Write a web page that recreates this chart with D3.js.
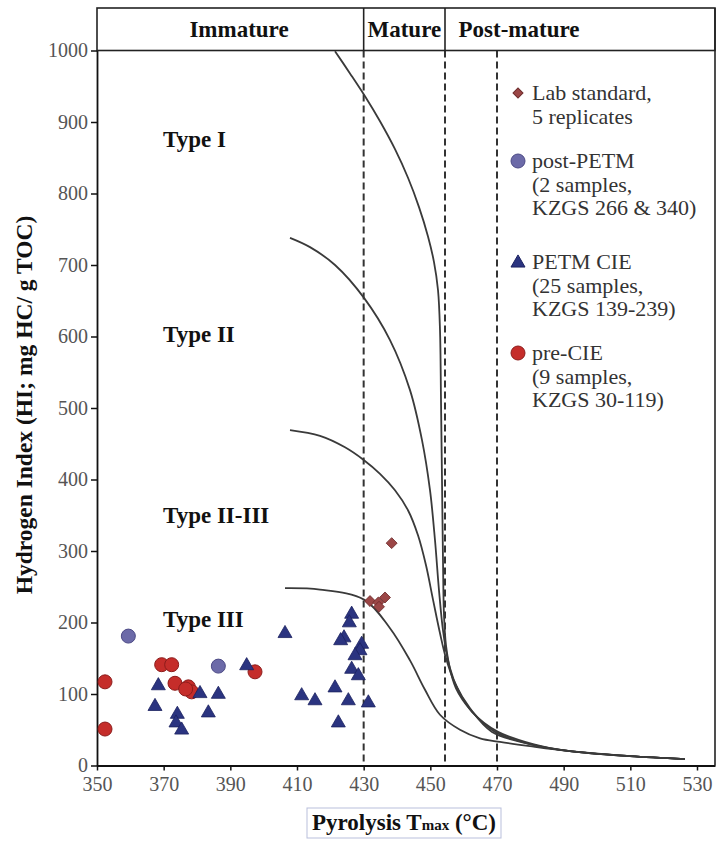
<!DOCTYPE html>
<html><head><meta charset="utf-8">
<script src="https://cdn.jsdelivr.net/npm/d3@7/dist/d3.min.js"></script>
<style>body{margin:0;background:#fff}text{font-family:"Liberation Serif","Times New Roman",serif}</style>
</head><body><svg id="c" width="720" height="841"></svg>
<script>
// ---- data ----
const xTickValues = [350,370,390,410,430,450,470,490,510,530];
const yTickValues = [0,100,200,300,400,500,600,700,800,900,1000];
const stageNames = ["Immature","Mature","Post-mature"];
const stageBounds = [430, 454.4, 470];
const typeNames = ["Type I","Type II","Type II-III","Type III"];
const typeLabelTmax = [369.8,369.8,369.8,369.8];
const typeLabelHI = [865,592,339,194];

const typeICurve = [[421.4,999],[425.9,968],[430.4,936],[434.9,901],[439.4,862],[443.3,822],[446.6,781],[449.3,740],[451.1,704],[452.3,665],[452.9,609],[453.2,511],[453.5,399],[453.8,287],[454.1,210],[454.7,168],[455.9,136],[458.3,106],[462.5,75],[470.3,47],[480.8,30],[491.9,20],[509.9,13],[526.4,9]];
const typeIICurve = [[407.9,738],[413.9,725],[421.4,700],[430.1,654],[437.9,595],[443.9,525],[447.5,455],[449.9,385],[451.4,315],[452.6,245],[453.8,189],[455.3,147],[457.7,108],[462.2,77],[469.4,47],[479.9,30],[491.9,20],[509.9,13],[526.4,9]];
const typeIIIIICurve = [[407.9,469],[416.9,461],[424.4,445],[430.1,427],[434.9,408],[439.4,385],[443.3,357],[446.3,322],[448.7,280],[450.8,232],[452.9,185],[454.7,150],[457.4,115],[461.9,80],[468.5,47],[479.9,30],[491.9,20],[509.9,13],[526.4,9]];
const typeIIICurve = [[406.4,248],[416.9,246],[430.1,232],[437.9,192],[443.9,147],[448.4,106],[452.9,71],[458.9,50],[464.9,38],[470.9,33],[479.9,27],[491.9,20],[509.9,13],[526.4,9]];

const labTmax = [438.4,431.9,434.4,436.4,434.6];
const labHI   = [311,230,228,235,222];
const postTmax = [359.4,386.4];
const postHI   = [181,139];
const petmTmax = [368.4,367.4,374.1,373.7,375.4,380.9,386.4,383.4,394.9,406.4,426.4,425.7,424.1,423.1,429.4,428.9,427.4,426.4,428.4,421.4,411.4,415.4,425.4,431.4,422.4];
const petmHI   = [113,84,73,61,51,102,101,75,141,186,213,201,180,176,171,162,155,136,127,110,99,92,92,89,61];
const preTmax = [352.4,352.4,369.4,372.4,373.4,377.4,378.4,376.6,397.4];
const preHI   = [117,51,141,141,115,110,103,107,131];

const legendLines = [["Lab standard,","5 replicates"],["post-PETM","(2 samples,","KZGS 266 & 340)"],["PETM CIE","(25 samples,","KZGS 139-239)"],["pre-CIE","(9 samples,","KZGS 30-119)"]];

// ---- drawing ----
const svg = d3.select("#c");
const L = 97, R = 715, T = 50.5, B = 765.5, HT = 8;
const x = d3.scaleLinear().domain([350, 535.4]).range([L, R]);
const y = d3.scaleLinear().domain([0, 1000]).range([B, T]);

const colLab = {fill:"#9b4646", stroke:"#6e2c2c"};
const colPost = {fill:"#6c6aa8", stroke:"#4b4985"};
const colPetm = {fill:"#2b3480", stroke:"#1c2260"};
const colPre = {fill:"#c52d2a", stroke:"#8c1c1b"};

// dashed stage lines
svg.append("g").selectAll("line").data(stageBounds).join("line")
  .attr("x1", d => x(d)).attr("x2", d => x(d)).attr("y1", T).attr("y2", B)
  .attr("stroke", "#333").attr("stroke-width", 2).attr("stroke-dasharray", "7,4");

// header box
const hdr = svg.append("g");
hdr.append("rect").attr("x", L).attr("y", HT).attr("width", R - L).attr("height", T - HT)
  .attr("fill", "none").attr("stroke", "#222").attr("stroke-width", 1.6);
hdr.selectAll("line.div").data(stageBounds.slice(0,2)).join("line").attr("class","div")
  .attr("x1", d => x(d)).attr("x2", d => x(d)).attr("y1", HT).attr("y2", T)
  .attr("stroke", "#222").attr("stroke-width", 1.6);
const stageCenters = [392.6, 442.2, 476.6];
hdr.selectAll("text").data(stageNames).join("text")
  .attr("x", (d,i) => x(stageCenters[i])).attr("y", 37)
  .attr("text-anchor", "middle").attr("font-size", 23).attr("font-weight", "bold").attr("fill", "#111")
  .text(d => d);

// curves
const line = d3.line().x(d => x(d[0])).y(d => y(d[1])).curve(d3.curveCatmullRom.alpha(0.5));
svg.append("g").selectAll("path").data([typeICurve, typeIICurve, typeIIIIICurve, typeIIICurve]).join("path")
  .attr("d", line).attr("fill", "none").attr("stroke", "#3a3a3a").attr("stroke-width", 1.8);

// type labels
svg.append("g").selectAll("text").data(typeNames).join("text")
  .attr("x", (d,i) => x(typeLabelTmax[i])).attr("y", (d,i) => y(typeLabelHI[i]))
  .attr("font-size", 23).attr("font-weight", "bold").attr("fill", "#111").text(d => d);

// axes
const gx = svg.append("g").attr("transform", `translate(0,${B})`)
  .call(d3.axisBottom(x).tickValues(xTickValues).tickFormat(d3.format("d")).tickSize(5).tickSizeOuter(0).tickPadding(6));
const gy = svg.append("g").attr("transform", `translate(${L},0)`)
  .call(d3.axisLeft(y).tickValues(yTickValues).tickFormat(d3.format("d")).tickSize(6).tickSizeOuter(0).tickPadding(3));
[gx, gy].forEach(g => {
  g.attr("font-family", null);
  g.select(".domain").attr("stroke", "#111").attr("stroke-width", 1.8);
  g.selectAll(".tick line").attr("stroke", "#111").attr("stroke-width", 1.5);
  g.selectAll(".tick text").attr("font-size", 20).attr("fill", "#555");
});
// right border
svg.append("line").attr("x1", R).attr("x2", R).attr("y1", HT).attr("y2", B)
  .attr("stroke", "#222").attr("stroke-width", 1.6);

// axis titles
svg.append("text").attr("transform", `translate(32,405) rotate(-90)`).attr("text-anchor", "middle")
  .attr("font-size", 23.5).attr("font-weight", "bold").attr("fill", "#111")
  .text("Hydrogen Index (HI; mg HC/ g TOC)");
svg.append("rect").attr("x", 307).attr("y", 808).attr("width", 194).attr("height", 30)
  .attr("fill", "none").attr("stroke", "#b9bfdc").attr("stroke-width", 1);
const xt = svg.append("text").attr("x", 404).attr("y", 830).attr("text-anchor", "middle")
  .attr("font-size", 23).attr("font-weight", "bold").attr("fill", "#111");
xt.append("tspan").text("Pyrolysis T");
xt.append("tspan").attr("font-size", 15).text("max");
xt.append("tspan").text(" (°C)");

// scatter
function zip(a, b) { return a.map((v, i) => [v, b[i]]); }
const pts = svg.append("g");
pts.selectAll("circle.pre").data(zip(preTmax, preHI)).join("circle").attr("class","pre")
  .attr("cx", d => x(d[0])).attr("cy", d => y(d[1])).attr("r", 7)
  .attr("fill", colPre.fill).attr("stroke", colPre.stroke).attr("stroke-width", 1);
pts.selectAll("circle.post").data(zip(postTmax, postHI)).join("circle").attr("class","post")
  .attr("cx", d => x(d[0])).attr("cy", d => y(d[1])).attr("r", 7)
  .attr("fill", colPost.fill).attr("stroke", colPost.stroke).attr("stroke-width", 1);
const tri = d3.symbol().type(d3.symbolTriangle).size(85);
pts.selectAll("path.petm").data(zip(petmTmax, petmHI)).join("path").attr("class","petm")
  .attr("d", tri).attr("transform", d => `translate(${x(d[0])},${y(d[1]) + 1})`)
  .attr("fill", colPetm.fill).attr("stroke", colPetm.stroke).attr("stroke-width", 0.8);
const sq = d3.symbol().type(d3.symbolSquare).size(60);
pts.selectAll("path.lab").data(zip(labTmax, labHI)).join("path").attr("class","lab")
  .attr("d", sq).attr("transform", d => `translate(${x(d[0])},${y(d[1])}) rotate(45)`)
  .attr("fill", colLab.fill).attr("stroke", colLab.stroke).attr("stroke-width", 0.8);

// legend
const leg = svg.append("g");
const legY = [93, 161, 262, 353];
const lineGap = 23.5;
const mk = leg.append("g");
mk.append("path").attr("d", d3.symbol().type(d3.symbolSquare).size(50)())
  .attr("transform", `translate(518,${legY[0]}) rotate(45)`).attr("fill", colLab.fill).attr("stroke", colLab.stroke);
mk.append("circle").attr("cx", 518).attr("cy", legY[1]).attr("r", 7).attr("fill", colPost.fill).attr("stroke", colPost.stroke);
mk.append("path").attr("d", d3.symbol().type(d3.symbolTriangle).size(85)())
  .attr("transform", `translate(518,${legY[2] + 1})`).attr("fill", colPetm.fill).attr("stroke", colPetm.stroke);
mk.append("circle").attr("cx", 518).attr("cy", legY[3]).attr("r", 7).attr("fill", colPre.fill).attr("stroke", colPre.stroke);
legendLines.forEach((lines, i) => {
  const t = leg.append("text").attr("x", 532).attr("y", legY[i] + 7).attr("font-size", 22).attr("fill", "#333");
  lines.forEach((s, j) => t.append("tspan").attr("x", 532).attr("dy", j === 0 ? 0 : lineGap).text(s));
});
</script></body></html>
